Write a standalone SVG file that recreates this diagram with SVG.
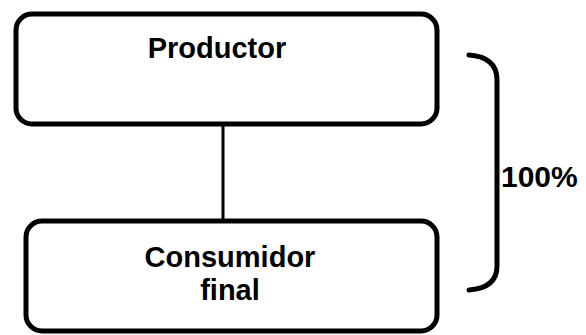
<svg xmlns="http://www.w3.org/2000/svg" width="586" height="335" viewBox="0 0 586 335">
<style>
.box{fill:#fff;stroke:#000;stroke-width:5}
.lbl{font-family:"Liberation Sans",Arial,sans-serif;font-size:29px;font-weight:bold;fill:#000;text-anchor:middle}
.ln{fill:none;stroke:#000;stroke-width:3}
.br{fill:none;stroke:#000;stroke-width:5;stroke-linecap:round}
</style>
<rect width="586" height="335" fill="#fff"/>
<g id="connectors">
<line class="ln" x1="223" y1="124" x2="223" y2="220"/>
</g>
<g id="productor">
<rect class="box" x="16" y="14" width="421" height="110" rx="16"/>
<text class="lbl" x="217" y="58">Productor</text>
</g>
<g id="consumidor">
<rect class="box" x="26" y="221" width="411" height="110" rx="16"/>
<text class="lbl" x="230" y="267">Consumidor</text>
<text class="lbl" x="230" y="300">final</text>
</g>
<g id="bracket">
<path class="br" d="M469 55 Q497 57 497 80 L497 266 Q497 288 469 290"/>
<text x="501" y="187" style="font-family:'Liberation Sans',Arial,sans-serif;font-size:30px;font-weight:bold">100%</text>
</g>
</svg>
